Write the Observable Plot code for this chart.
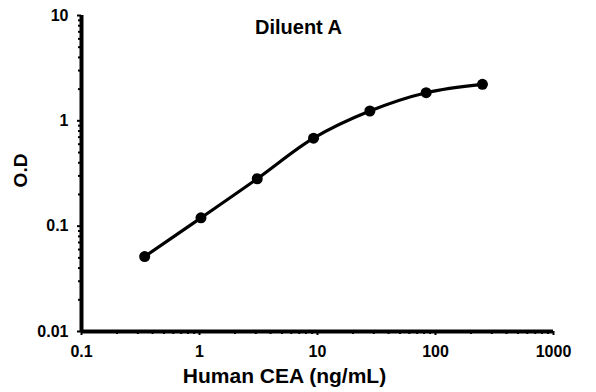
<!DOCTYPE html>
<html>
<head>
<meta charset="utf-8">
<script src="https://cdn.jsdelivr.net/npm/d3@7"></script>
<script src="https://cdn.jsdelivr.net/npm/@observablehq/plot@0.6"></script>
<style>
  html, body { margin: 0; padding: 0; background: #fff; }
  svg { font-family: "Liberation Sans", Arial, sans-serif; }
</style>
</head>
<body>
<div id="chart"></div>
<script>
const concentration = [0.343, 1.029, 3.086, 9.259, 27.78, 83.33, 250];
const od = [0.0515, 0.120, 0.282, 0.685, 1.24, 1.85, 2.22];
const xMajor = [0.1, 1, 10, 100, 1000];
const yMajor = [0.01, 0.1, 1, 10];
const title = "Diluent A";
const xLabel = "Human CEA (ng/mL)";
const yLabel = "O.D";

const data = concentration.map((c, i) => ({x: c, y: od[i]}));
const minors = (majors) => {
  const out = [];
  for (let i = 0; i < majors.length - 1; i++)
    for (let k = 2; k <= 9; k++) out.push(majors[i] * k);
  return out;
};
const fmt = d3.format("~g");

const chart = Plot.plot({
  width: 596,
  height: 392,
  marginLeft: 81,
  marginRight: 43,
  marginTop: 15,
  marginBottom: 61,
  style: {fontFamily: "Liberation Sans, Arial, sans-serif", background: "#fff", color: "#000"},
  x: {type: "log", domain: [0.1, 1000]},
  y: {type: "log", domain: [0.01, 10]},
  marks: [
    Plot.axisX({ticks: minors(xMajor), tickSize: 3, strokeWidth: 2, text: null, label: null}),
    Plot.axisY({ticks: minors(yMajor), tickSize: 3, strokeWidth: 2, text: null, label: null}),
    Plot.axisX({ticks: xMajor, tickSize: 4, strokeWidth: 2, tickPadding: 10, tickFormat: fmt,
      fontSize: 16, fontWeight: "bold", label: null}),
    Plot.axisY({ticks: yMajor, tickSize: 4, strokeWidth: 2, tickPadding: 9, tickFormat: fmt,
      fontSize: 16, fontWeight: "bold", label: null}),
    Plot.ruleY([0.01], {strokeWidth: 4, stroke: "#000"}),
    Plot.ruleX([0.1], {strokeWidth: 4, stroke: "#000"}),
    Plot.line(data, {x: "x", y: "y", curve: "catmull-rom", stroke: "#000", strokeWidth: 3.2}),
    Plot.dot(data, {x: "x", y: "y", r: 5.5, fill: "#000", stroke: "none"}),
    Plot.text([title], {frameAnchor: "top", dx: -19, dy: 4, fontSize: 20, fontWeight: "bold", fill: "#000"}),
    Plot.text([xLabel], {frameAnchor: "bottom", dx: -33, dy: 51, fontSize: 21, fontWeight: "bold", fill: "#000"}),
    Plot.text([yLabel], {frameAnchor: "left", textAnchor: "middle", dx: -61, dy: -3, rotate: -90, fontSize: 19, fontWeight: "bold", fill: "#000"})
  ]
});
document.getElementById("chart").appendChild(chart);
</script>
</body>
</html>
